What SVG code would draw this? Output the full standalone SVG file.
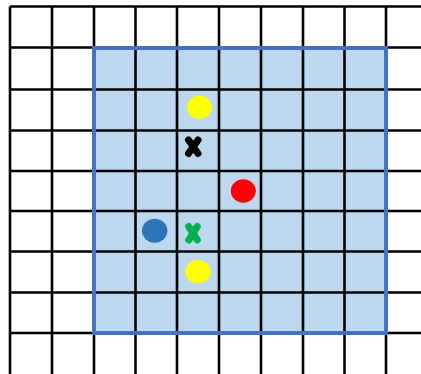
<svg xmlns="http://www.w3.org/2000/svg" width="421" height="374" viewBox="0 0 421 374">
<style>
.g{stroke:#000;stroke-width:2.6;fill:none}
.x{stroke-width:7;stroke-linecap:round;fill:none}
</style>
<rect width="421" height="374" fill="#fff"/>
<rect id="area" x="94" y="48" width="292" height="285" fill="#BDD7EE"/>
<g id="grid" class="g">
<path d="M10 6.5V374M52 6.5V374M94 6.5V374M135.5 6.5V374M177 6.5V374M219 6.5V374M261 6.5V374M303 6.5V374M344.5 6.5V374M386 6.5V374"/>
<path d="M10 6.5H421M10 47.5H421M10 89.5H421M10 130.5H421M10 171H421M10 211H421M10 251.5H421M10 292.5H421M10 333H421"/>
</g>
<rect id="border" x="94" y="48" width="292" height="285" fill="none" stroke="#4472C4" stroke-width="4"/>
<g id="yellow1"><ellipse cx="199.5" cy="107.3" rx="12.5" ry="11.7" fill="#FFFF00"/></g>
<g id="cross-black"><path class="x" stroke="#000" d="M188.5 140L198 153.5M198 140L188.5 153.5"/></g>
<g id="red"><ellipse cx="243.3" cy="191" rx="12.5" ry="11.7" fill="#FF0000"/></g>
<g id="blue"><ellipse cx="154.7" cy="230.7" rx="12.7" ry="12" fill="#2E75B6"/></g>
<g id="cross-green"><path class="x" stroke="#00B050" d="M188.7 226.5L197.3 240M197.3 226.5L188.7 240"/></g>
<g id="yellow2"><ellipse cx="198" cy="271.7" rx="12.7" ry="11.7" fill="#FFFF00"/></g>
</svg>
